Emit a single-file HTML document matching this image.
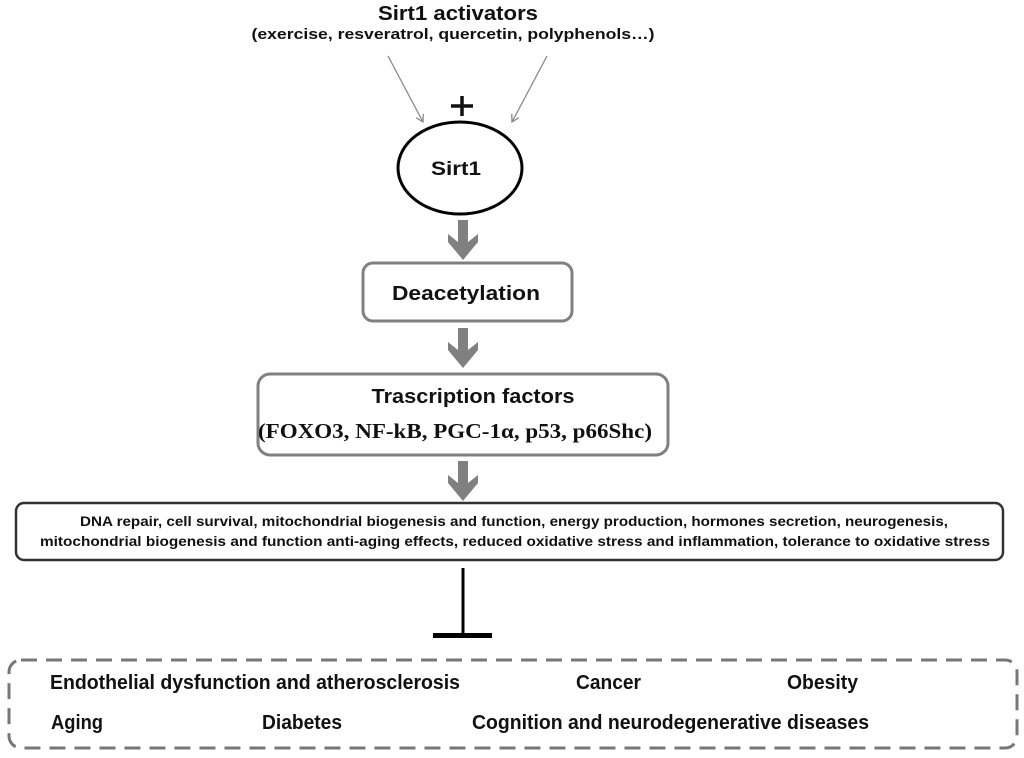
<!DOCTYPE html>
<html><head><meta charset="utf-8"><style>
html,body{margin:0;padding:0;background:#fff;}
svg{display:block;}
text{font-family:"Liberation Sans",sans-serif;font-weight:bold;fill:#111;}
</style></head><body>
<svg width="1024" height="758" viewBox="0 0 1024 758" xmlns="http://www.w3.org/2000/svg">
<defs>
<marker id="ah" markerWidth="10" markerHeight="10" refX="8" refY="5" orient="auto" markerUnits="userSpaceOnUse">
<path d="M1,1 L8,5 L1,9" fill="none" stroke="#888" stroke-width="1.3"/>
</marker>
<g id="garrow">
<path d="M-5,0 L5,0 L5,22 L15,14 L15,22 L0,40 L-15,22 L-15,14 L-5,22 Z" fill="#808080"/>
</g>
</defs>
<text x="458" y="20" font-size="20" text-anchor="middle" textLength="160" lengthAdjust="spacingAndGlyphs">Sirt1 activators</text>
<text x="453" y="39" font-size="15" text-anchor="middle" textLength="403" lengthAdjust="spacingAndGlyphs">(exercise, resveratrol, quercetin, polyphenols…)</text>
<line x1="388" y1="56" x2="423" y2="122" stroke="#888" stroke-width="1.3" marker-end="url(#ah)"/>
<line x1="547" y1="56" x2="512" y2="122" stroke="#888" stroke-width="1.3" marker-end="url(#ah)"/>
<path d="M451,106 L473,106 M462,96 L462,116" stroke="#111" stroke-width="3.5"/>
<ellipse cx="460" cy="168" rx="62" ry="46" fill="#fff" stroke="#000" stroke-width="3"/>
<text x="456" y="175" font-size="19" text-anchor="middle" textLength="50" lengthAdjust="spacingAndGlyphs">Sirt1</text>
<use href="#garrow" x="463" y="220"/>
<rect x="363" y="263" width="209" height="58" rx="10" fill="#fff" stroke="#808080" stroke-width="3"/>
<text x="466" y="300" font-size="20" text-anchor="middle" textLength="148" lengthAdjust="spacingAndGlyphs">Deacetylation</text>
<use href="#garrow" x="463" y="328"/>
<rect x="258" y="374" width="410" height="81" rx="12" fill="#fff" stroke="#808080" stroke-width="3"/>
<text x="473" y="403" font-size="20" text-anchor="middle" textLength="203" lengthAdjust="spacingAndGlyphs">Trascription factors</text>
<text x="455" y="438" font-size="21" text-anchor="middle" textLength="394" lengthAdjust="spacingAndGlyphs" style="font-family:'Liberation Serif',serif">(FOXO3, NF-kB, PGC-1α, p53, p66Shc)</text>
<use href="#garrow" x="463" y="461"/>
<rect x="16" y="503" width="987" height="57" rx="8" fill="#fff" stroke="#333" stroke-width="2.5"/>
<text x="514" y="526" font-size="14" text-anchor="middle" textLength="868" lengthAdjust="spacingAndGlyphs">DNA repair, cell survival, mitochondrial biogenesis and function, energy production, hormones secretion, neurogenesis,</text>
<text x="515" y="546" font-size="14" text-anchor="middle" textLength="950" lengthAdjust="spacingAndGlyphs">mitochondrial biogenesis and function anti-aging effects, reduced  oxidative stress and inflammation,  tolerance to oxidative stress</text>
<line x1="463" y1="568" x2="463" y2="636" stroke="#000" stroke-width="3"/>
<line x1="433" y1="635.5" x2="492" y2="635.5" stroke="#000" stroke-width="5"/>
<rect x="9" y="660" width="1008" height="88" rx="12" fill="none" stroke="#777" stroke-width="3" stroke-dasharray="16,9"/>
<text x="50" y="689" font-size="20" textLength="410" lengthAdjust="spacingAndGlyphs">Endothelial dysfunction and atherosclerosis</text>
<text x="576" y="689" font-size="20" textLength="65" lengthAdjust="spacingAndGlyphs">Cancer</text>
<text x="787" y="689" font-size="20" textLength="71" lengthAdjust="spacingAndGlyphs">Obesity</text>
<text x="51" y="729" font-size="20" textLength="52" lengthAdjust="spacingAndGlyphs">Aging</text>
<text x="262" y="729" font-size="20" textLength="80" lengthAdjust="spacingAndGlyphs">Diabetes</text>
<text x="472" y="729" font-size="20" textLength="397" lengthAdjust="spacingAndGlyphs">Cognition and neurodegenerative  diseases</text>
</svg>
</body></html>
